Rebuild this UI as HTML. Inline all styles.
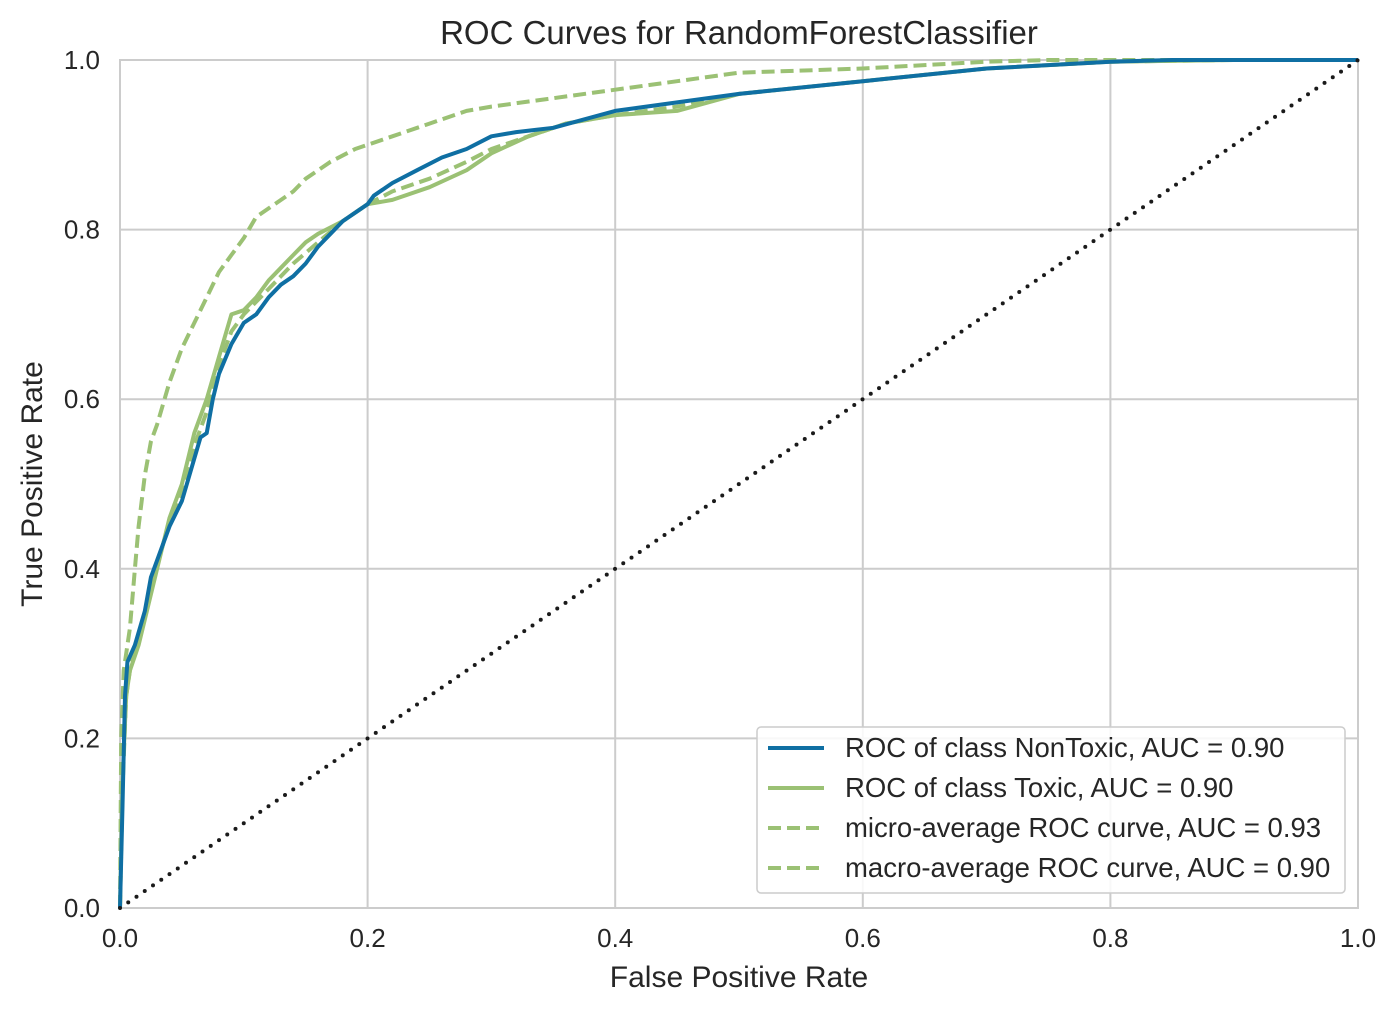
<!DOCTYPE html>
<html><head><meta charset="utf-8"><style>
body{margin:0;background:#fff;}
svg text{font-family:"Liberation Sans",sans-serif;fill:#262626;}
</style></head><body>
<svg id="chart" width="1398" height="1014">
<text x="739" y="44" font-size="33" text-anchor="middle">ROC Curves for RandomForestClassifier</text>
<g id="grid"></g>
<g id="series"></g>
<text x="739" y="987" font-size="30" text-anchor="middle">False Positive Rate</text>
<text transform="translate(42,484) rotate(-90)" font-size="30" text-anchor="middle">True Positive Rate</text>
<g>
<rect x="757" y="727" width="588" height="166" rx="4" fill="#fff" fill-opacity="0.85" stroke="#ccc" stroke-width="1.5"/>
<g><line x1="768" x2="824" y1="748" y2="748" stroke="#0f6fa3" stroke-width="4"/><text x="845" y="757" font-size="27.5">ROC of class NonToxic, AUC = 0.90</text></g>
<g><line x1="768" x2="824" y1="788" y2="788" stroke="#9bc174" stroke-width="4"/><text x="845" y="797" font-size="27.5">ROC of class Toxic, AUC = 0.90</text></g>
<g><line x1="768" x2="824" y1="828" y2="828" stroke="#9bc174" stroke-width="4" stroke-dasharray="13,6"/><text x="845" y="837" font-size="27.5">micro-average ROC curve, AUC = 0.93</text></g>
<g><line x1="768" x2="824" y1="868" y2="868" stroke="#9bc174" stroke-width="4" stroke-dasharray="13,6"/><text x="845" y="877" font-size="27.5">macro-average ROC curve, AUC = 0.90</text></g>
</g>
</svg>
<script>
const ticks=[0,0.2,0.4,0.6,0.8,1.0];
const tickLabels=["0.0","0.2","0.4","0.6","0.8","1.0"];
const nontoxicFpr=[0,0.002,0.004,0.006,0.012,0.02,0.025,0.03,0.04,0.05,0.06,0.065,0.07,0.075,0.08,0.09,0.1,0.11,0.12,0.13,0.14,0.15,0.16,0.17,0.18,0.2,0.205,0.22,0.24,0.26,0.28,0.3,0.32,0.35,0.4,0.45,0.5,0.6,0.7,0.8,0.85,1];
const nontoxicTpr=[0,0.12,0.25,0.29,0.31,0.35,0.39,0.41,0.45,0.48,0.53,0.555,0.56,0.60,0.63,0.665,0.69,0.70,0.72,0.735,0.745,0.76,0.78,0.795,0.81,0.83,0.84,0.855,0.87,0.885,0.895,0.91,0.915,0.92,0.94,0.95,0.96,0.975,0.99,0.998,1,1];
const toxicFpr=[0,0.002,0.005,0.008,0.015,0.02,0.03,0.04,0.05,0.06,0.07,0.08,0.09,0.1,0.11,0.12,0.13,0.14,0.15,0.16,0.18,0.2,0.22,0.25,0.28,0.3,0.33,0.36,0.4,0.45,0.5,0.6,0.7,0.8,0.9,1];
const toxicTpr=[0,0.15,0.25,0.28,0.31,0.34,0.40,0.46,0.50,0.56,0.60,0.65,0.70,0.705,0.72,0.74,0.755,0.77,0.785,0.795,0.81,0.83,0.835,0.85,0.87,0.89,0.91,0.925,0.935,0.94,0.96,0.975,0.99,0.998,1,1];
const macroFpr=[0,0.002,0.005,0.01,0.02,0.03,0.04,0.05,0.06,0.07,0.08,0.09,0.1,0.12,0.14,0.16,0.18,0.2,0.22,0.25,0.28,0.3,0.33,0.36,0.4,0.45,0.5,0.6,0.7,0.8,0.9,1];
const macroTpr=[0,0.14,0.25,0.30,0.345,0.405,0.455,0.49,0.545,0.585,0.64,0.68,0.70,0.73,0.76,0.785,0.81,0.83,0.845,0.86,0.88,0.895,0.91,0.925,0.935,0.945,0.96,0.975,0.99,0.998,1,1];
const microFpr=[0,0.001,0.003,0.008,0.012,0.015,0.02,0.025,0.03,0.04,0.05,0.06,0.07,0.08,0.09,0.1,0.11,0.12,0.14,0.15,0.17,0.19,0.2,0.22,0.25,0.28,0.3,0.35,0.4,0.45,0.5,0.6,0.7,0.75,1];
const microTpr=[0,0.2,0.28,0.33,0.40,0.45,0.51,0.55,0.57,0.62,0.66,0.69,0.72,0.75,0.77,0.79,0.815,0.825,0.845,0.86,0.88,0.895,0.9,0.91,0.925,0.94,0.945,0.955,0.965,0.975,0.985,0.99,0.998,1,1];
const X0=120,X1=1358,Y0=908,Y1=60;
const sx=v=>X0+v*(X1-X0), sy=v=>Y0-v*(Y0-Y1);
const NS="http://www.w3.org/2000/svg";
const grid=document.getElementById('grid'), ser=document.getElementById('series');
function mk(tag,attrs,parent){const e=document.createElementNS(NS,tag);for(const k in attrs)e.setAttribute(k,attrs[k]);parent.appendChild(e);return e;}
ticks.forEach((t,i)=>{
 const gx=mk('line',{x1:sx(t),x2:sx(t),y1:Y1,y2:Y0,stroke:'#cccccc','stroke-width':2},grid);
 
 
 const gy=mk('line',{x1:X0,x2:X1,y1:sy(t),y2:sy(t),stroke:'#cccccc','stroke-width':2},grid);
 
 
 const tx=mk('text',{x:sx(t),y:947,'font-size':26,'text-anchor':'middle'},grid);tx.textContent=tickLabels[i];
 
 
 const ty=mk('text',{x:100,y:sy(t)+9,'font-size':26,'text-anchor':'end'},grid);ty.textContent=tickLabels[i];
 
 
});
const frame=mk('rect',{x:X0,y:Y1,width:X1-X0,height:Y0-Y1,fill:'none',stroke:'#cccccc','stroke-width':2},grid);


function line(xs,ys,color,dash,name){
 const d=xs.map((x,i)=>(i?'L':'M')+sx(x).toFixed(1)+','+sy(ys[i]).toFixed(1)).join('');
 const p=mk('path',{d:d,fill:'none',stroke:color,'stroke-width':4,'stroke-linejoin':'round'},ser);
 if(dash)p.setAttribute('stroke-dasharray',dash);
 
 
}
line(microFpr,microTpr,'#9bc174','13,6','micro-average-curve');
line(macroFpr,macroTpr,'#9bc174','13,6','macro-average-curve');
line(toxicFpr,toxicTpr,'#9bc174',null,'toxic-roc-curve');
line(nontoxicFpr,nontoxicTpr,'#0f6fa3',null,'nontoxic-roc-curve');
const diag=mk('line',{x1:sx(0),y1:sy(0),x2:sx(1),y2:sy(1),stroke:'#1a1a1a','stroke-width':4,'stroke-dasharray':'0,10','stroke-linecap':'round'},ser);


</script>
</body></html>
